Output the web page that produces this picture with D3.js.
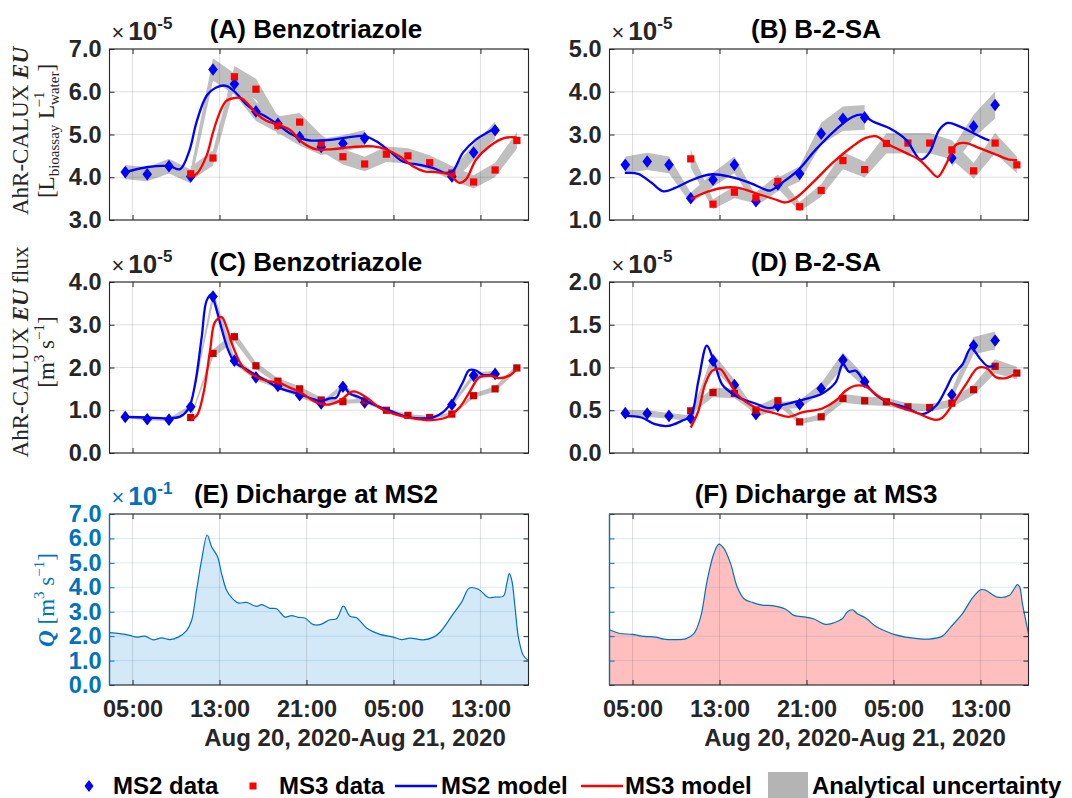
<!DOCTYPE html>
<html><head><meta charset="utf-8">
<script src="https://cdn.jsdelivr.net/npm/d3@7"></script>
<style>body{margin:0;background:#fff}svg{display:block}</style>
</head><body>
<svg id="c" width="1072" height="798"></svg>
<script>
// ---------------- DATA ----------------
// time axis: hours since Aug 20, 2020 00:00
const hoursDomain = [2.88, 41.42];
const xTickHours = [5, 13, 21, 29, 37];
const xTickLabels = ["05:00", "13:00", "21:00", "05:00", "13:00"];
const dateLabel = "Aug 20, 2020-Aug 21, 2020";

// sampling times (hours)
const sampleHours = [4.33, 6.35, 8.35, 10.35, 12.4, 14.37, 16.35, 18.37, 20.37, 22.35,
  24.35, 26.35, 28.35, 30.33, 32.33, 34.37, 36.37, 38.35, 40.35];

// (A) Benzotriazole EU (x1e-5)
const ms2EU_BT = [4.12, 4.07, 4.26, 4.02, 6.52, 6.18, 5.54, 5.25, 4.94, 4.71, 4.79, 4.91, null, null, null, 4.02, 4.58, 5.10, null];
const ms3EU_BT = [null, null, null, 4.08, 4.45, 6.35, 6.06, 5.21, 5.29, 4.80, 4.48, 4.31, 4.54, 4.50, 4.34, 4.10, 3.89, 4.17, 4.86];
// (B) B-2-SA EU (x1e-5)
const ms2EU_B2SA = [2.29, 2.37, 2.29, 1.51, 1.94, 2.29, 1.44, 1.83, 2.08, 3.02, 3.37, 3.40, null, null, null, 2.45, 3.19, 3.69, null];
const ms3EU_B2SA = [null, null, null, 2.43, 1.37, 1.65, 1.52, 1.90, 1.31, 1.69, 2.39, 2.18, 2.79, 2.80, 2.80, 2.64, 2.15, 2.80, 2.29];
// (C) Benzotriazole EU flux (x1e-5)
const ms2Flux_BT = [0.845, 0.79, 0.78, 1.08, 3.66, 2.16, 1.77, 1.57, 1.35, 1.16, 1.55, 1.18, null, null, null, 1.13, 1.81, 1.85, null];
const ms3Flux_BT = [null, null, null, 0.83, 2.33, 2.72, 2.04, 1.68, 1.50, 1.24, 1.20, 1.22, 1.00, 0.88, 0.83, 0.91, 1.34, 1.50, 1.99];
// (D) B-2-SA EU flux (x1e-5)
const ms2Flux_B2SA = [0.466, 0.462, 0.434, 0.407, 1.08, 0.795, 0.454, 0.55, 0.571, 0.755, 1.088, 0.834, null, null, null, 0.681, 1.256, 1.315, null];
const ms3Flux_B2SA = [null, null, null, 0.493, 0.708, 0.697, 0.501, 0.611, 0.364, 0.423, 0.638, 0.611, 0.599, 0.540, 0.532, 0.583, 0.740, 1.014, 0.935];

// relative analytical uncertainty per panel
const uncertaintyA = 0.04, uncertaintyB = 0.085, uncertaintyC = 0.04, uncertaintyD = 0.08;

// model curves [hour, value]
const ms2Model_A = [[4.36,4.12],[6.41,4.24],[8.39,4.26],[9.37,4.19],[10.2,4.6],[10.9,5.3],[11.8,5.9],[12.7,6.1],[13.6,6.14],[14.4,6.0],[15.49,5.70],[16.35,5.54],[17.32,5.41],[18.39,5.23],[19.46,5.03],[20.38,4.92],[21.30,4.86],[22.34,4.86],[23.44,4.88],[24.97,4.94],[26.35,4.96],[27.42,4.84],[28.64,4.61],[29.86,4.37],[31.39,4.29],[32.61,4.22],[33.84,4.10],[34.45,4.14],[35.37,4.57],[36.59,4.88],[37.81,5.07],[38.39,5.15]];
const ms3Model_A = [[10.35,4.02],[10.9,4.08],[11.8,4.5],[12.4,5.05],[13.0,5.5],[13.6,5.78],[14.3,5.85],[15.0,5.85],[15.6,5.72],[16.35,5.5],[17.3,5.32],[18.39,5.23],[19.46,5.11],[20.69,4.80],[21.91,4.65],[23.44,4.66],[25.28,4.71],[27.11,4.72],[28.33,4.65],[29.56,4.49],[30.78,4.26],[31.85,4.14],[32.92,4.12],[34.14,4.06],[35.06,3.87],[35.67,3.95],[36.59,4.41],[37.81,4.72],[39.23,4.92],[40.32,4.93]];
const ms2Model_B = [[4.29,2.10],[5.52,2.08],[6.75,1.87],[7.83,1.67],[8.91,1.75],[10.14,1.90],[11.37,2.02],[12.35,2.07],[13.83,2.02],[15.68,1.88],[17.22,1.71],[17.68,1.69],[18.75,1.87],[20.29,2.18],[21.83,2.64],[23.68,3.11],[25.22,3.41],[26.14,3.46],[27.06,3.31],[28.60,3.15],[30.14,2.88],[31.52,2.41],[32.29,2.57],[33.22,3.11],[33.98,3.27],[35.06,3.19],[36.29,3.04],[37.22,2.92],[37.83,2.86]];
const ms3Model_B = [[10.35,1.49],[11.98,1.67],[13.52,1.76],[14.75,1.75],[16.29,1.63],[18.14,1.48],[19.06,1.41],[19.98,1.51],[21.83,1.94],[23.37,2.33],[25.22,2.72],[26.45,2.92],[27.37,2.96],[28.60,2.76],[30.14,2.57],[31.37,2.41],[32.29,2.18],[33.06,2.01],[33.83,2.30],[34.75,2.76],[35.68,2.80],[36.91,2.68],[38.45,2.53],[39.68,2.41],[40.38,2.40]];
const ms2Model_C = [[4.36,0.845],[6.31,0.83],[8.15,0.81],[9.37,0.85],[10.14,1.03],[10.75,1.61],[11.36,2.71],[11.82,3.57],[12.28,3.71],[12.58,3.49],[13.20,2.90],[13.81,2.40],[14.39,2.12],[15.18,2.00],[16.10,1.86],[17.32,1.69],[18.39,1.53],[19.46,1.44],[20.38,1.38],[21.61,1.26],[22.34,1.21],[23.14,1.28],[23.75,1.30],[24.36,1.57],[24.97,1.39],[25.89,1.30],[27.11,1.14],[28.64,0.99],[30.17,0.85],[31.39,0.81],[32.61,0.83],[33.53,0.95],[34.45,1.22],[35.37,1.65],[35.98,1.94],[36.59,1.93],[37.20,1.83],[38.33,1.83]];
const ms3Model_C = [[10.35,0.79],[10.90,0.87],[11.51,1.38],[12.13,2.40],[12.58,3.06],[13.20,3.18],[13.65,2.94],[14.27,2.47],[15.18,2.00],[16.41,1.78],[17.32,1.69],[18.39,1.65],[19.46,1.53],[20.69,1.38],[21.91,1.18],[22.83,1.13],[24.05,1.22],[25.28,1.44],[26.50,1.30],[27.72,1.06],[28.94,0.92],[30.78,0.81],[32.31,0.77],[33.84,0.83],[35.06,1.06],[35.98,1.42],[36.90,1.77],[37.81,1.81],[38.73,1.75],[39.65,1.81],[40.32,1.96]];
const ms2Model_D = [[4.29,0.434],[5.83,0.415],[7.06,0.337],[8.29,0.317],[9.52,0.376],[10.35,0.434],[11.06,0.845],[11.83,1.256],[12.35,1.12],[13.22,0.806],[13.83,0.728],[14.75,0.650],[16.29,0.579],[17.52,0.524],[18.45,0.552],[19.37,0.579],[20.29,0.611],[21.22,0.642],[22.45,0.697],[23.68,0.826],[24.35,1.041],[24.91,0.951],[25.52,0.963],[26.35,0.826],[27.37,0.681],[28.60,0.591],[30.14,0.532],[31.68,0.454],[32.91,0.552],[33.83,0.748],[34.45,0.904],[35.37,1.041],[36.14,1.229],[36.91,1.112],[37.68,1.014],[38.38,1.022]];
const ms3Model_D = [[10.35,0.297],[11.06,0.493],[11.68,0.806],[12.35,0.963],[13.06,0.982],[13.83,0.845],[14.75,0.669],[16.29,0.532],[18.14,0.462],[19.37,0.423],[20.60,0.474],[22.45,0.521],[23.68,0.611],[24.60,0.728],[25.52,0.787],[26.45,0.775],[27.68,0.658],[29.22,0.552],[31.06,0.474],[32.91,0.387],[33.52,0.415],[34.45,0.571],[35.68,0.806],[36.75,0.994],[37.52,0.994],[38.45,0.885],[39.37,0.877],[40.38,0.943]];

// discharge Q (x1e-1 m3/s) [hour, value]
const dischargeMS2 = [[2.88,2.14],[3.83,2.10],[4.75,2.03],[5.37,1.96],[6.13,2.00],[6.90,1.85],[7.67,1.93],[8.44,1.86],[9.20,1.96],[9.97,2.23],[10.43,2.64],[10.89,3.88],[11.35,5.11],[11.87,6.14],[12.27,5.66],[12.82,5.25],[13.19,4.56],[13.65,3.88],[14.11,3.58],[14.72,3.36],[15.49,3.38],[16.41,3.22],[16.87,3.29],[17.64,3.14],[18.25,3.12],[19.02,2.78],[19.63,2.84],[20.25,2.77],[20.86,2.74],[21.63,2.47],[22.24,2.47],[23.16,2.67],[23.77,2.71],[24.39,3.23],[25.00,2.81],[25.61,2.75],[26.53,2.33],[27.76,2.07],[28.99,1.96],[29.75,1.86],[30.52,1.92],[31.75,1.85],[32.67,1.96],[33.28,2.16],[34.51,2.92],[35.28,3.40],[35.98,3.97],[36.81,3.92],[37.73,3.58],[38.34,3.60],[39.11,3.64],[39.42,4.15],[39.66,4.56],[39.88,4.29],[40.18,3.19],[40.49,1.96],[40.95,1.21],[41.42,1.00]];
const dischargeMS3 = [[2.88,2.26],[3.74,2.12],[4.97,2.07],[6.04,1.99],[7.12,1.96],[7.88,1.88],[8.96,1.86],[9.88,1.89],[10.64,2.10],[11.26,2.78],[11.87,4.29],[12.48,5.38],[12.94,5.77],[13.40,5.59],[14.02,4.97],[14.63,4.01],[15.25,3.53],[16.01,3.38],[16.93,3.27],[17.85,3.25],[19.08,3.10],[19.85,2.85],[20.92,2.78],[21.69,2.70],[22.76,2.48],[23.53,2.55],[24.29,2.71],[24.75,2.99],[25.21,3.08],[25.67,2.92],[26.44,2.74],[27.36,2.40],[28.13,2.23],[29.20,2.05],[30.12,1.96],[31.20,1.90],[32.27,1.88],[33.50,2.00],[34.26,2.37],[35.34,2.92],[36.26,3.56],[37.02,3.90],[37.48,3.88],[38.56,3.60],[39.63,3.66],[40.40,4.11],[40.61,4.01],[40.86,3.33],[41.42,2.10]];

const yTicksA = [3, 4, 5, 6, 7];
const yTicksB = [1, 2, 3, 4, 5];
const yTicksC = [0, 1, 2, 3, 4];
const yTicksD = [0, 0.5, 1, 1.5, 2];
const yTicksE = [0, 1, 2, 3, 4, 5, 6, 7];

// ---------------- DRAWING ----------------
const svg = d3.select("#c");
const W = 419, H = 171;
const SANS = "'Liberation Sans', Arial, Helvetica, sans-serif";
const SERIF = "'Liberation Serif', 'DejaVu Serif', serif";
const AX = "#262626";
const QBLUE = "#0072BD";
const TICKFS = 23.5;

function makePanel(p) {
  const g = svg.append("g");
  const x = d3.scaleLinear().domain(hoursDomain).range([p.left, p.left + W]);
  const y = d3.scaleLinear().domain(p.yDomain).range([p.top + H, p.top]);
  const cid = "clip" + p.id;
  svg.append("clipPath").attr("id", cid).append("rect")
    .attr("x", p.left).attr("y", p.top).attr("width", W).attr("height", H);
  const content = g.append("g").attr("clip-path", `url(#${cid})`);
  const over = g.append("g");
  return { g, x, y, content, over };
}

function finishPanel(P, p) {
  const { x, y, over } = P;
  const gridV = over.append("g");
  gridV.selectAll("line").data(xTickHours).join("line")
    .attr("x1", d => x(d)).attr("x2", d => x(d)).attr("y1", p.top).attr("y2", p.top + H)
    .attr("stroke", AX).attr("stroke-opacity", 0.14).attr("stroke-width", 1);
  const gridH = over.append("g");
  gridH.selectAll("line").data(p.yTicks).join("line")
    .attr("x1", p.left).attr("x2", p.left + W).attr("y1", d => y(d)).attr("y2", d => y(d))
    .attr("stroke", p.yColor || AX).attr("stroke-opacity", 0.14).attr("stroke-width", 1);

  const fmt = d3.format(".1f");
  const yc = p.yColor || AX;
  const xb = over.append("g").attr("transform", `translate(0,${p.top + H})`)
    .call(d3.axisBottom(x).tickValues(xTickHours).tickSize(-5).tickPadding(15)
      .tickFormat((d, i) => p.xLabels ? xTickLabels[i] : ""));
  const xt = over.append("g").attr("transform", `translate(0,${p.top})`)
    .call(d3.axisTop(x).tickValues(xTickHours).tickSize(-5).tickFormat(""));
  const yl = over.append("g").attr("transform", `translate(${p.left},0)`)
    .call(d3.axisLeft(y).tickValues(p.yTicks).tickSize(-5).tickPadding(8)
      .tickFormat(p.yLabels ? fmt : ""));
  const yr = over.append("g").attr("transform", `translate(${p.left + W},0)`)
    .call(d3.axisRight(y).tickValues(p.yTicks).tickSize(-5).tickFormat(""));
  [xb, xt, yr].forEach(a => {
    a.select(".domain").remove();
    a.selectAll("line").attr("stroke", AX);
  });
  yl.select(".domain").remove();
  yl.selectAll("line").attr("stroke", yc);
  over.selectAll("text").attr("font-family", SANS).attr("font-weight", "bold")
    .attr("font-size", TICKFS);
  xb.selectAll("text").attr("fill", AX);
  yl.selectAll("text").attr("fill", yc);

  over.append("rect").attr("x", p.left).attr("y", p.top).attr("width", W).attr("height", H)
    .attr("fill", "none").attr("stroke", AX).attr("stroke-width", 1.1);
  if (p.yColor) {
    over.append("line").attr("x1", p.left).attr("x2", p.left).attr("y1", p.top).attr("y2", p.top + H)
      .attr("stroke", p.yColor).attr("stroke-width", 1.3);
  }
  svg.append("text").attr("x", p.left + W / 2 - 3).attr("y", p.top - 11)
    .attr("text-anchor", "middle").attr("font-family", SANS).attr("font-weight", "bold")
    .attr("font-size", 26).attr("fill", "#000").text(p.title);
  if (p.exponent) {
    const t = svg.append("text").attr("x", p.left + 2).attr("y", p.top - 9)
      .attr("font-family", SANS).attr("fill", p.yColor || AX);
    t.append("tspan").attr("font-size", 22).text("\u00d7");
    t.append("tspan").attr("font-size", 26).attr("font-weight", "bold").attr("dx", 4).text("10");
    t.append("tspan").attr("font-size", 17).attr("font-weight", "bold").attr("dy", -11).text(p.exponent);
  }
  if (p.xLabels) {
    svg.append("text").attr("x", p.left + W / 2 + 36).attr("y", 746)
      .attr("text-anchor", "middle").attr("font-family", SANS).attr("font-weight", "bold")
      .attr("font-size", 24).attr("fill", AX).text(dateLabel);
  }
}

function diamondPath(w, h) { return `M0,${-h}L${w},0L0,${h}L${-w},0Z`; }

function drawConcentration(P, ms2, ms3, unc, ms2Model, ms3Model, m3Color, m2Color) {
  const { x, y, content } = P;
  const rows2 = sampleHours.map((h, i) => ({ h, v: ms2[i] }));
  const rows3 = sampleHours.map((h, i) => ({ h, v: ms3[i] }));
  const band = d3.area().defined(d => d.v != null)
    .x(d => x(d.h)).y0(d => y(d.v * (1 - unc))).y1(d => y(d.v * (1 + unc)));
  content.append("path").datum(rows2).attr("d", band).attr("fill", "#bfbfbf");
  content.append("path").datum(rows3).attr("d", band).attr("fill", "#bfbfbf");
  content.selectAll(".d2").data(rows2.filter(d => d.v != null)).join("path")
    .attr("transform", d => `translate(${x(d.h)},${y(d.v)})`)
    .attr("d", diamondPath(4.8, 6.3)).attr("fill", m2Color);
  content.selectAll(".d3").data(rows3.filter(d => d.v != null)).join("rect")
    .attr("x", d => x(d.h) - 3.6).attr("y", d => y(d.v) - 3.6)
    .attr("width", 7.2).attr("height", 7.2).attr("fill", m3Color);
  const line = d3.line().x(d => x(d[0])).y(d => y(d[1])).curve(d3.curveCatmullRom.alpha(0.5));
  content.append("path").datum(ms2Model).attr("d", line).attr("fill", "none")
    .attr("stroke", "#0000ff").attr("stroke-width", 2.3);
  content.append("path").datum(ms3Model).attr("d", line).attr("fill", "none")
    .attr("stroke", "#ff0000").attr("stroke-width", 2.3);
}

function drawDischarge(P, data, fill) {
  const { x, y, content } = P;
  const area = d3.area().x(d => x(d[0])).y0(y(0)).y1(d => y(d[1])).curve(d3.curveCatmullRom.alpha(0.5));
  const line = d3.line().x(d => x(d[0])).y(d => y(d[1])).curve(d3.curveCatmullRom.alpha(0.5));
  content.append("path").datum(data).attr("d", area).attr("fill", fill);
  content.append("path").datum(data).attr("d", line).attr("fill", "none")
    .attr("stroke", QBLUE).attr("stroke-width", 1.2);
}

const LEFT1 = 109.5, LEFT2 = 609.5;
const TOP1 = 49, TOP2 = 282, TOP3 = 514;

const pA = { id: "A", left: LEFT1, top: TOP1, yDomain: [3, 7], yTicks: yTicksA, yLabels: true, title: "(A) Benzotriazole", exponent: "-5" };
const PA = makePanel(pA);
drawConcentration(PA, ms2EU_BT, ms3EU_BT, uncertaintyA, ms2Model_A, ms3Model_A, "#ff0000", "#0000ff");
finishPanel(PA, pA);

const pB = { id: "B", left: LEFT2, top: TOP1, yDomain: [1, 5], yTicks: yTicksB, yLabels: true, title: "(B) B-2-SA", exponent: "-5" };
const PB = makePanel(pB);
drawConcentration(PB, ms2EU_B2SA, ms3EU_B2SA, uncertaintyB, ms2Model_B, ms3Model_B, "#ff0000", "#0000ff");
finishPanel(PB, pB);

const pC = { id: "C", left: LEFT1, top: TOP2, yDomain: [0, 4], yTicks: yTicksC, yLabels: true, title: "(C) Benzotriazole", exponent: "-5" };
const PC = makePanel(pC);
drawConcentration(PC, ms2Flux_BT, ms3Flux_BT, uncertaintyC, ms2Model_C, ms3Model_C, "#c80000", "#0000e0");
finishPanel(PC, pC);

const pD = { id: "D", left: LEFT2, top: TOP2, yDomain: [0, 2], yTicks: yTicksD, yLabels: true, title: "(D) B-2-SA", exponent: "-5" };
const PD = makePanel(pD);
drawConcentration(PD, ms2Flux_B2SA, ms3Flux_B2SA, uncertaintyD, ms2Model_D, ms3Model_D, "#c80000", "#0000e0");
finishPanel(PD, pD);

const pE = { id: "E", left: LEFT1, top: TOP3, yDomain: [0, 7], yTicks: yTicksE, yLabels: true, title: "(E) Dicharge at MS2", exponent: "-1", yColor: QBLUE, xLabels: true };
const PE = makePanel(pE);
drawDischarge(PE, dischargeMS2, "#d3e9f7");
finishPanel(PE, pE);

const pF = { id: "F", left: LEFT2, top: TOP3, yDomain: [0, 7], yTicks: yTicksE, yLabels: false, title: "(F) Dicharge at MS3", yColor: QBLUE, xLabels: true };
const PF = makePanel(pF);
drawDischarge(PF, dischargeMS3, "#ffbfbf");
finishPanel(PF, pF);

// ---------------- Y LABELS (LaTeX style) ----------------
function rotLabel(cx, cy, color, build) {
  const t = svg.append("text").attr("transform", `translate(${cx},${cy}) rotate(-90)`)
    .attr("text-anchor", "middle").attr("font-family", SERIF).attr("font-size", 23)
    .attr("fill", color);
  build(t);
  return t;
}
rotLabel(28, 131, AX, t => {
  t.append("tspan").text("AhR-CALUX ");
  t.append("tspan").attr("font-weight", "bold").attr("font-style", "italic").text("EU");
});
rotLabel(54, 131, AX, t => {
  t.append("tspan").text("[L");
  t.append("tspan").attr("font-size", 15).attr("dy", 5).text("bioassay");
  t.append("tspan").attr("dy", -5).text(" L");
  t.append("tspan").attr("font-size", 15).attr("dy", 5).text("water");
  t.append("tspan").attr("font-size", 15).attr("dy", -15).attr("dx", -36).text("\u22121");
  t.append("tspan").attr("dy", 10).attr("dx", 20).text("]");
});
rotLabel(28, 352, AX, t => {
  t.append("tspan").text("AhR-CALUX ");
  t.append("tspan").attr("font-weight", "bold").attr("font-style", "italic").text("EU");
  t.append("tspan").text(" flux");
});
rotLabel(54, 352, AX, t => {
  t.append("tspan").text("[m");
  t.append("tspan").attr("font-size", 15).attr("dy", -10).text("3");
  t.append("tspan").attr("dy", 10).text(" s");
  t.append("tspan").attr("font-size", 15).attr("dy", -10).text("\u22121");
  t.append("tspan").attr("dy", 10).text("]");
});
rotLabel(54, 600, QBLUE, t => {
  t.append("tspan").attr("font-weight", "bold").attr("font-style", "italic").text("Q");
  t.append("tspan").text(" [m");
  t.append("tspan").attr("font-size", 15).attr("dy", -10).text("3");
  t.append("tspan").attr("dy", 10).text(" s");
  t.append("tspan").attr("font-size", 15).attr("dy", -10).text("\u22121");
  t.append("tspan").attr("dy", 10).text("]");
});

// ---------------- LEGEND ----------------
const legendItems = ["MS2 data", "MS3 data", "MS2 model", "MS3 model", "Analytical uncertainty"];
const lg = svg.append("g");
const LY = 786;
lg.append("path").attr("transform", `translate(89,${LY})`).attr("d", diamondPath(4.5, 6)).attr("fill", "#0000ff");
lg.append("rect").attr("x", 249.5).attr("y", LY - 3.5).attr("width", 7).attr("height", 7).attr("fill", "#ff0000");
lg.append("line").attr("x1", 395).attr("x2", 437).attr("y1", LY).attr("y2", LY).attr("stroke", "#0000ff").attr("stroke-width", 2.5);
lg.append("line").attr("x1", 581).attr("x2", 623).attr("y1", LY).attr("y2", LY).attr("stroke", "#ff0000").attr("stroke-width", 2.5);
lg.append("rect").attr("x", 768).attr("y", 772).attr("width", 40).attr("height", 26).attr("fill", "#b4b4b4");
const legendX = [113, 279, 441, 625, 812];
lg.selectAll("text.lt").data(legendItems).join("text")
  .attr("x", (d, i) => legendX[i]).attr("y", 794)
  .attr("font-family", SANS).attr("font-weight", "bold").attr("font-size", 24)
  .attr("fill", "#000").text(d => d);
</script>
</body></html>
